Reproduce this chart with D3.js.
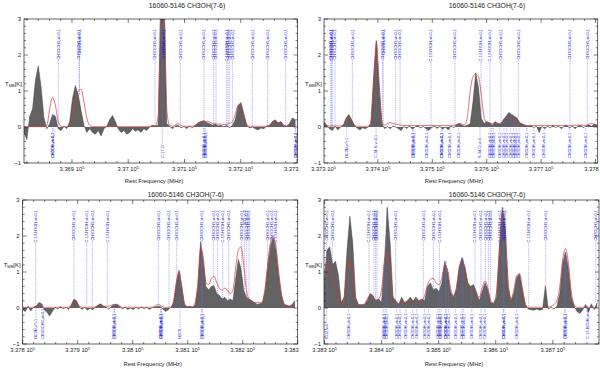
<!DOCTYPE html>
<html><head><meta charset="utf-8">
<script src="https://cdn.jsdelivr.net/npm/d3@7/dist/d3.min.js"></script>
<style>body{margin:0;background:#fff}svg{display:block}</style>
</head><body>
<svg id="c" width="600" height="369"></svg>
<script>
const titleText = "16060-5146 CH3OH(7-6)";
const xLabelText = "Rest Frequency (MHz)";
const yTickValues = [-1, 0, 1, 2, 3];

// ---------- Panel 1 ----------
const p1Start = 336814.7, p1Step = 5.075;
const p1Obs = [-0.15,-0.35,0.3,0.5,1.3,1.7,1.1,0.25,-0.05,0.1,
 0.35,0.3,-0.05,-0.1,0.02,-0.05,0.15,0.8,1.15,0.9,
 0.45,0.05,-0.15,-0.05,-0.15,-0.2,-0.1,-0.25,-0.05,0.02,
 0.2,0.32,0.15,-0.05,-0.15,-0.1,-0.2,-0.15,-0.05,-0.12,
 -0.08,-0.15,-0.05,-0.1,0.0,0.05,0.03,0.05,3.6,3.6,
 0.1,0.02,-0.05,0.03,0.05,-0.03,0.02,-0.05,0.03,-0.02,
 0.05,0.12,0.15,0.18,0.12,0.1,0.05,0.08,0.03,0.05,
 0.0,0.05,-0.02,0.05,0.2,0.6,0.68,0.35,0.05,-0.03,
 0.0,-0.05,-0.08,-0.03,-0.05,0.02,0.05,0.15,0.2,0.12,
 0.15,0.05,0.02,0.1,0.25,0.2];
const p1Model = [0.01,0.01,0.01,0.01,0.01,0.01,0.01,0.02,0.05,0.5,
 0.82,0.6,0.15,0.02,0.01,0.01,0.05,0.35,0.75,1.0,
 1.05,0.7,0.25,0.05,0.01,0.01,0.01,0.01,0.01,0.02,
 0.03,0.03,0.02,0.01,0.01,0.01,0.01,0.01,0.01,0.01,
 0.01,0.01,0.01,0.01,0.02,0.02,0.03,0.3,3.5,3.5,
 0.5,0.05,0.02,0.06,0.09,0.05,0.02,0.02,0.02,0.02,
 0.04,0.1,0.14,0.15,0.16,0.14,0.1,0.09,0.08,0.08,
 0.07,0.08,0.1,0.15,0.35,0.6,0.6,0.35,0.08,0.02,
 0.02,0.02,0.02,0.02,0.02,0.02,0.04,0.1,0.12,0.1,
 0.06,0.03,0.02,0.04,0.08,0.06];
const p1Ticks = [336900, 337000, 337100, 337200, 337300];
const p1LinesUp = [[336875.7,"CH3OCH3,vt=0,1"],[336912.5,"CH3OCH3,vt=0,1"],[336913.5,"CH3OH,vt=0,1"],
 [337047.6,"CH3OCH3,vt=0,1"],[337062.4,"CH3OCH3,vt=0,1"],[337063.4,"CH3OH,vt=0,1"],
 [337092.6,"CH3OCH3,vt=0,1"],[337134.7,"CH3OCH3,vt=0,1"],[337151.9,"CH3OCH3,vt=0,1"],
 [337156,"CH3OCH3,vt=0,1"],[337175,"C-13-H3OH,vt=0,1"],[337177.4,"CH3OCH3,vt=0,1"],
 [337179.7,"CH3OCH3,vt=0,1"],[337185.1,"CH3OCH3,vt=0,1"],[337220.6,"CH3OCH3,vt=0,1"],
 [337247.9,"CH3OCH3,vt=0,1"],[337279.9,"CH3OCH3,vt=0,1"]];
const p1LinesDown = [[336865.7,"CH3OH,vt=0,1"],[336866.5,"CH3OH,vt=0,1"],[337060.6,"C-17-O"],
 [337133.5,"CH3OH,vt=0,1"],[337135.3,"CH3OH,vt=0,1"],[337137.1,"CH3OH,vt=0,1"],
 [337297.1,"CH3OH,vt=0,1"],[337298,"CH3OH,vt=0,1"]];

// ---------- Panel 2 ----------
const p2Start = 337301, p2Step = 5.07;
const p2Obs = [0.15,0.05,-0.05,-0.1,0.02,-0.08,0.0,0.05,0.25,0.35,
 0.2,0.05,-0.03,-0.08,-0.02,-0.05,0.0,0.1,1.4,2.4,
 1.1,0.1,-0.05,0.02,-0.05,0.03,0.0,-0.05,-0.1,0.02,
 -0.04,0.03,-0.06,0.0,0.04,-0.03,0.02,-0.05,-0.1,-0.02,
 0.03,-0.04,0.02,-0.06,0.0,-0.08,0.03,-0.02,0.06,0.1,
 0.05,0.02,0.05,0.1,0.7,1.5,1.1,0.25,0.1,0.15,
 0.12,0.05,0.15,0.1,0.08,0.2,0.3,0.4,0.35,0.3,
 0.25,0.12,0.08,0.05,0.02,0.05,-0.02,0.03,-0.15,0.02,
 -0.05,0.03,-0.03,0.05,-0.02,0.03,-0.05,0.02,0.05,-0.03,
 0.03,-0.05,0.02,0.05,-0.02,0.03,0.06,0.02,0.08,0.05];
const p2Model = [0.03,0.03,0.03,0.03,0.03,0.03,0.03,0.05,0.2,0.28,
 0.2,0.06,0.02,0.02,0.02,0.02,0.02,0.15,1.3,2.35,
 1.2,0.15,0.05,0.1,0.12,0.1,0.08,0.06,0.05,0.04,
 0.04,0.04,0.04,0.04,0.04,0.04,0.04,0.04,0.04,0.04,
 0.04,0.04,0.04,0.04,0.04,0.04,0.04,0.05,0.06,0.1,
 0.08,0.06,0.3,1.0,1.4,1.47,1.4,0.9,0.3,0.12,
 0.1,0.1,0.1,0.1,0.1,0.15,0.22,0.25,0.25,0.22,
 0.15,0.08,0.04,0.04,0.04,0.04,0.04,0.04,0.04,0.04,
 0.04,0.04,0.04,0.04,0.04,0.04,0.04,0.04,0.04,0.04,
 0.04,0.05,0.05,0.05,0.05,0.05,0.08,0.1,0.07,0.05];
const p2Ticks = [337300, 337400, 337500, 337600, 337700, 337800];
const p2LinesUp = [[337313.3,"CH3OCH3,vt=0,1"],[337315.1,"CH3OCH3,vt=0,1"],[337316,"C-13-H3OH,vt=0,1"],
 [337321.2,"CH3OCH3,vt=0,1"],[337353.1,"CH3OCH3,vt=0,1"],[337408.9,"CH3OCH3,vt=0,1"],
 [337409.8,"CH3OH,vt=0,1"],[337432.7,"CH3OCH3,vt=0,1"],[337440.7,"CH3OCH3,vt=0,1"],
 [337497.7,"C-13-H3OH,vt=0,1"],[337541.7,"CH3OCH3,vt=0,1"],[337589.6,"C-13-H3OH,vt=0,1"],
 [337606.1,"C-13-H3OH,vt=0,1"],[337626.3,"CH3OCH3,vt=0,1"],[337658.1,"CH3OCH3,vt=0,1"],
 [337753.1,"CH3OCH3,vt=0,1"],[337784.9,"CH3OCH3,vt=0,1"]];
const p2LinesDown = [[337342.7,"HC3N,v7=1"],[337396.6,"C-34-S,v=0,1"],[337464,"CH3OH,vt=0,1"],
 [337465,"CH3OH,vt=0,1"],[337489.7,"CH3OH,vt=0,1"],[337517.2,"CH3OH,vt=0,1"],
 [337518.2,"CH3OH,vt=0,1"],[337532.6,"CH3OH,vt=0,1"],[337547.9,"CH3OH,vt=0,1"],
 [337587.7,"S-34-O,v=0"],[337606.1,"CH3OH,vt=0,1"],[337609.2,"CH3OH,vt=0,1"],
 [337612.2,"CH3OH,vt=0,1"],[337624.5,"CH3OH,vt=0,1"],[337631.9,"CH3OH,vt=0,1"],
 [337636.7,"CH3OH,vt=0,1"],[337644,"CH3OH,vt=0,1"],[337649,"CH3OH,vt=0,1"],
 [337653.9,"CH3OH,vt=0,1"],[337659.4,"CH3OH,vt=0,1"],[337673.5,"CH3OH,vt=0,1"],
 [337687,"CH3OH,vt=0,1"],[337705.4,"CH3OH,vt=0,1"],[337751.9,"CH3OH,vt=0,1"],
 [337781.9,"CH3OH,vt=0,1"]];

// ---------- Panel 3 ----------
const p3Start = 337800, p3Step = 4.9;
const p3Obs = [-0.05,-0.1,0.05,-0.08,0.02,0.05,0.15,0.12,-0.05,-0.12,
 -0.22,-0.1,0.02,-0.03,0.04,-0.02,0.02,-0.04,0.08,0.25,
 0.2,0.03,-0.04,0.02,-0.06,0.0,-0.05,0.03,0.08,0.12,
 0.05,0.02,-0.03,0.05,0.1,0.1,0.04,-0.02,0.02,-0.04,
 0.0,-0.05,0.02,-0.03,0.03,-0.02,0.02,-0.04,0.01,0.03,
 0.05,0.04,-0.03,-0.1,-0.05,0.02,0.15,0.7,1.05,0.6,
 0.1,0.03,0.05,0.02,0.08,0.6,1.85,1.3,0.6,0.5,
 0.6,0.62,0.4,0.35,0.25,0.3,0.2,0.25,0.2,0.8,
 1.35,1.1,0.5,0.3,0.25,0.2,0.15,0.1,0.12,0.15,
 0.5,1.2,1.75,1.95,1.6,0.9,0.35,0.1,0.08,0.05,
 0.1,0.2];
const p3Model = [0.02,0.02,0.02,0.02,0.02,0.05,0.08,0.06,0.02,0.02,
 0.02,0.02,0.02,0.02,0.02,0.02,0.02,0.02,0.08,0.2,
 0.15,0.05,0.02,0.02,0.02,0.02,0.02,0.03,0.05,0.06,
 0.05,0.05,0.05,0.08,0.1,0.1,0.05,0.02,0.02,0.02,
 0.02,0.02,0.02,0.02,0.02,0.02,0.02,0.02,0.02,0.05,
 0.1,0.08,0.03,0.02,0.02,0.02,0.2,0.7,1.0,0.6,
 0.15,0.04,0.04,0.04,0.15,0.7,1.65,1.4,0.7,0.65,
 0.82,0.88,0.7,0.55,0.5,0.55,0.5,0.4,0.5,1.1,
 1.6,1.7,1.2,0.5,0.25,0.2,0.15,0.15,0.15,0.2,
 0.6,1.3,1.85,2.0,1.7,1.0,0.4,0.12,0.05,0.05,
 0.05,0.1];
const p3Ticks = [337800, 337900, 338000, 338100, 338200, 338300];
const p3LinesUp = [[337823.6,"C-13-H3OH,vt=0,1"],[337893.3,"CH3OCH3,vt=0,1"],[337916.3,"C-13-H3OH,vt=0,1"],
 [337926.6,"CH3OCH3,vt=0,1"],[337953.9,"C-13-H3OH,vt=0,1"],[338046.6,"CH3OCH3,vt=0,1"],
 [338066,"CH3OCH3,vt=0,1"],[338080,"CH3OCH3,vt=0,1"],[338125.4,"CH3OCH3,vt=0,1"],
 [338146.6,"CH3OCH3,vt=0,1"],[338154.5,"CH3OCH3,vt=0,1"],[338163.6,"C-13-H3OH,vt=0,1"],
 [338174.5,"CH3OCH3,vt=0,1"],[338198.1,"CH3OCH3,vt=0,1"],[338203,"SO2,v=0"],
 [338207.2,"CH3OCH3,vt=0,1"],[338211.5,"CH3OCH3,vt=0,1"],[338244.8,"CH3OCH3,vt=0,1"],
 [338252.7,"CH3OCH3,vt=0,1"],[338260.5,"C-13-H3OH,vt=0,1"]];
const p3LinesDown = [[337824.2,"HC3N,v7=1"],[337835.7,"CH3OCH3,vt=0,1"],[337966,"CH3OH,vt=0,1"],
 [337967,"CH3OH,vt=0,1"],[338050.9,"CH3OH,vt=0,1"],[338051.8,"CH3OH,vt=0,1"],
 [338052.7,"CH3OH,vt=0,1"],[338086,"H2CS"],[338125.4,"CH3OH,vt=0,1"],[338126.6,"CH3OH,vt=0,1"]];

// ---------- Panel 4 ----------
const p4Start = 338299, p4Step = 5.04;
const p4Obs = [0.65,1.6,1.7,1.2,1.3,0.9,0.15,0.3,1.6,2.55,
 1.8,0.3,0.1,0.08,0.1,0.2,0.4,0.35,0.2,0.25,
 0.15,1.2,2.8,1.8,0.3,0.2,0.1,0.3,0.15,0.2,
 0.3,0.2,0.3,0.2,0.25,0.2,0.6,0.7,0.5,0.55,
 0.45,0.7,1.3,1.0,0.45,0.3,0.5,1.15,1.4,1.15,
 0.7,0.6,0.65,0.45,0.2,0.45,0.7,0.5,0.15,0.12,
 0.3,1.6,2.8,2.2,0.6,0.2,0.4,0.85,0.95,0.5,
 0.1,-0.03,-0.05,-0.06,-0.03,-0.06,-0.04,0.62,-0.03,0.02,
 -0.03,0.05,0.4,1.25,1.55,1.1,0.3,0.05,-0.1,-0.15,
 -0.05,0.1,-0.12,0.12,-0.05,0.15];
const p4Model = [0.9,1.25,1.1,0.8,0.6,0.3,0.07,0.25,0.9,1.35,
 0.95,0.25,0.08,0.1,0.1,0.25,0.35,0.3,0.22,0.25,
 0.5,1.3,1.55,1.0,0.3,0.15,0.12,0.15,0.15,0.15,
 0.2,0.2,0.2,0.18,0.2,0.35,0.65,0.8,0.82,0.7,
 0.65,0.85,1.2,1.05,0.55,0.35,0.55,1.05,1.25,1.1,
 0.7,0.55,0.5,0.35,0.3,0.55,0.75,0.55,0.2,0.15,
 0.45,1.7,2.65,2.2,0.8,0.25,0.5,0.9,0.95,0.55,
 0.12,0.02,0.02,0.02,0.02,0.02,0.02,0.02,0.02,0.05,
 0.1,0.2,0.6,1.35,1.65,1.25,0.45,0.1,0.02,0.02,
 0.02,0.02,0.02,0.02,0.02,0.02];
const p4Ticks = [338300, 338400, 338500, 338600, 338700];
const p4LinesUp = [[338303.6,"CH3OCH3,vt=0,1"],[338313.6,"CH3OCH3,vt=0,1"],[338377.9,"C-13-H3OH,vt=0,1"],
 [338386.6,"CH3OCH3,vt=0,1"],[338389.5,"CH3OCH3,vt=0,1"],[338391.9,"CH3OCH3,vt=0,1"],
 [338424.6,"CH3OCH3,vt=0,1"],[338473.1,"CH3OCH3,vt=0,1"],[338490.7,"CH3OCH3,vt=0,1"],
 [338501.2,"C-13-H3OH,vt=0,1"],[338563.7,"C-13-H3OH,vt=0,1"],[338574.2,"CH3OCH3,vt=0,1"],
 [338581.8,"CH3OCH3,vt=0,1"],[338587.1,"CH3OCH3,vt=0,1"],[338590.6,"CH3OCH3,vt=0,1"],
 [338606.4,"C-13-H3OH,vt=0,1"],[338614.6,"CH3OCH3,vt=0,1"],[338615.5,"CH3OCH3,vt=0,1"],
 [338657.8,"C-13-H3OH,vt=0,1"],[338687.6,"CH3OCH3,vt=0,1"],[338775.3,"CH3OCH3,vt=0,1"]];
const p4LinesDown = [[338303.6,"SO2,v=0"],[338341.6,"CH3OH,vt=0,1"],[338403,"CH3OH,vt=0,1"],
 [338405.9,"CH3OH,vt=0,1"],[338408.8,"CH3OH,vt=0,1"],[338426.4,"CH3OH,vt=0,1"],
 [338432.2,"CH3OH,vt=0,1"],[338442.7,"CH3OH,vt=0,1"],[338454.4,"CH3OH,vt=0,1"],
 [338461.4,"CH3OH,vt=0,1"],[338474.9,"CH3OH,vt=0,1"],[338481.9,"CH3OH,vt=0,1"],
 [338498.3,"CH3OH,vt=0,1"],[338501.2,"CH3OH,vt=0,1"],[338504.1,"CH3OH,vt=0,1"],
 [338512.3,"CH3OH,vt=0,1"],[338513,"CH3OH,vt=0,1"],[338517,"CH3OH,vt=0,1"],
 [338529.2,"CH3OH,vt=0,1"],[338540.9,"CH3OH,vt=0,1"],[338543.3,"CH3OH,vt=0,1"],
 [338557.9,"CH3OH,vt=0,1"],[338574.2,"CH3OH,vt=0,1"],[338581.3,"CH3OH,vt=0,1"],
 [338613.4,"CH3OH,vt=0,1"],[338614.5,"CH3OH,vt=0,1"],[338636.8,"CH3OH,vt=0,1"],
 [338720.4,"CH3OH,vt=0,1"],[338722.7,"CH3OH,vt=0,1"],[338760.7,"C-13-H3OH,vt=0,1"]];

// ---------- layout ----------
const panels = [
 {start:p1Start, step:p1Step, obs:p1Obs, model:p1Model, ticks:p1Ticks, up:p1LinesUp, down:p1LinesDown,
  dom:[336814.7,337300.9], x0:24, x1:297.5, y0:19, y1:163, titleY:8, xlabY:183},
 {start:p2Start, step:p2Step, obs:p2Obs, model:p2Model, ticks:p2Ticks, up:p2LinesUp, down:p2LinesDown,
  dom:[337301,337804], x0:324, x1:597.7, y0:19, y1:163, titleY:8, xlabY:183},
 {start:p3Start, step:p3Step, obs:p3Obs, model:p3Model, ticks:p3Ticks, up:p3LinesUp, down:p3LinesDown,
  dom:[337800,338300], x0:22.7, x1:297.7, y0:200, y1:344, titleY:197, xlabY:366},
 {start:p4Start, step:p4Step, obs:p4Obs, model:p4Model, ticks:p4Ticks, up:p4LinesUp, down:p4LinesDown,
  dom:[338299,338781], x0:324, x1:599, y0:200, y1:344, titleY:197, xlabY:366}
];

const svg = d3.select("#c");
const defs = svg.append("defs");
const FONT = "Liberation Sans, Arial, sans-serif";
const TXT = "#222";
const LBL = "#2424d0";

function fmtNum(v){ return (v/1e5).toFixed(3).replace(/0+$/,""); }

panels.forEach((p,k)=>{
  const x = d3.scaleLinear().domain(p.dom).range([p.x0,p.x1]);
  const y = d3.scaleLinear().domain([-1,3]).range([p.y1,p.y0]);
  const clipId = "clip"+k;
  defs.append("clipPath").attr("id",clipId).append("rect")
    .attr("x",p.x0).attr("y",p.y0).attr("width",p.x1-p.x0).attr("height",p.y1-p.y0);
  const g = svg.append("g");
  const plot = g.append("g").attr("clip-path","url(#"+clipId+")");
  const freqs = p.obs.map((v,i)=>p.start+i*p.step);
  const obsAt = f => { const i = Math.round((f-p.start)/p.step); return (i>=0 && i<p.obs.length)? p.obs[i] : 0; };

  // observed spectrum
  const area = d3.area().x((d,i)=>x(freqs[i])).y0(y(0)).y1(d=>y(d)).curve(d3.curveLinear);
  plot.append("path").datum(p.obs).attr("d",area).attr("fill","#626262");
  const line = d3.line().x((d,i)=>x(freqs[i])).y(d=>y(d)).curve(d3.curveLinear);
  plot.append("path").datum(p.obs).attr("d",line).attr("fill","none").attr("stroke","#444").attr("stroke-width",0.5);

  // line markers
  const lineG = plot.append("g");
  const lblG = g.append("g").attr("clip-path","url(#"+clipId+")");
  const topY = y(2.72), botY = y(-0.86);
  p.up.forEach(([f,lab])=>{
    const xx = x(f);
    const t = lblG.append("text").attr("transform",`translate(${xx+1.3},${topY}) rotate(-90)`)
      .attr("text-anchor","end").attr("font-family",FONT).attr("font-size",3.9)
      .attr("fill",LBL).text(lab);
    const L = t.node().getComputedTextLength();
    const yStart = topY + L + 1;
    const yEnd = y(Math.max(0, obsAt(f)));
    if (yEnd > yStart) lineG.append("line").attr("x1",xx).attr("x2",xx).attr("y1",yStart).attr("y2",yEnd)
      .attr("stroke","#6a6ae2").attr("stroke-width",0.5).attr("stroke-dasharray","1.3,0.9");
  });
  p.down.forEach(([f,lab])=>{
    const xx = x(f);
    const t = lblG.append("text").attr("transform",`translate(${xx+1.3},${botY}) rotate(-90)`)
      .attr("text-anchor","start").attr("font-family",FONT).attr("font-size",3.9)
      .attr("fill",LBL).text(lab);
    const L = t.node().getComputedTextLength();
    const yStart = botY - L - 1;
    const yEnd = y(Math.max(0, obsAt(f)));
    lineG.append("line").attr("x1",xx).attr("x2",xx).attr("y1",yStart).attr("y2",yEnd)
      .attr("stroke","#6a6ae2").attr("stroke-width",0.5).attr("stroke-dasharray","1.3,0.9");
  });

  // model
  const mline = d3.line().x((d,i)=>x(freqs[i])).y(d=>y(d)).curve(d3.curveMonotoneX);
  plot.append("path").datum(p.model).attr("d",mline).attr("fill","none")
    .attr("stroke","#d63a3a").attr("stroke-width",0.7);

  // frame
  g.append("rect").attr("x",p.x0).attr("y",p.y0).attr("width",p.x1-p.x0).attr("height",p.y1-p.y0)
    .attr("fill","none").attr("stroke","#222").attr("stroke-width",0.7);

  // x ticks
  const tg = g.append("g").attr("stroke","#222").attr("stroke-width",0.6);
  for (let f = Math.ceil(p.dom[0]/20)*20; f <= p.dom[1]; f += 20) {
    const major = (Math.round(f) % 100 === 0);
    const len = major ? 4 : 2;
    const xx = x(f);
    tg.append("line").attr("x1",xx).attr("x2",xx).attr("y1",p.y1).attr("y2",p.y1-len);
    tg.append("line").attr("x1",xx).attr("x2",xx).attr("y1",p.y0).attr("y2",p.y0+len);
  }
  // y ticks
  for (let v = -1; v <= 3.001; v += 0.2) {
    const vv = Math.round(v*10)/10;
    const major = Math.abs(vv - Math.round(vv)) < 1e-6;
    const len = major ? 4 : 2;
    const yy = y(vv);
    tg.append("line").attr("x1",p.x0).attr("x2",p.x0+len).attr("y1",yy).attr("y2",yy);
    tg.append("line").attr("x1",p.x1).attr("x2",p.x1-len).attr("y1",yy).attr("y2",yy);
  }
  // x tick labels
  const labY = p.y1 + 8;
  p.ticks.forEach(v=>{
    const xx = x(v);
    if (xx > p.x1 - 6) {
      g.append("text").attr("x",p.x1+1).attr("y",labY).attr("text-anchor","end")
        .attr("font-family",FONT).attr("font-size",5.8).attr("fill",TXT).text(fmtNum(v));
    } else {
      const t = g.append("text").attr("x",xx).attr("y",labY).attr("text-anchor","middle")
        .attr("font-family",FONT).attr("font-size",5.8).attr("fill",TXT);
      t.append("tspan").text(fmtNum(v)+" 10");
      t.append("tspan").attr("dy",-2.5).attr("font-size",4).text("5");
    }
  });
  // y tick labels
  yTickValues.forEach(v=>{
    g.append("text").attr("x",p.x0-3).attr("y",y(v)+2).attr("text-anchor","end")
      .attr("font-family",FONT).attr("font-size",6).attr("fill",TXT).text(v<0? "\u2212"+Math.abs(v) : v);
  });
  // y axis label
  const yl = g.append("text").attr("x",p.x0-19).attr("y",y(1.2)+2)
    .attr("font-family",FONT).attr("font-size",6).attr("fill",TXT);
  yl.append("tspan").text("T");
  yl.append("tspan").attr("dy",1.5).attr("font-size",4).text("MB");
  yl.append("tspan").attr("dy",-1.5).text("[K]");
  // title & x label
  g.append("text").attr("x",p.x0+163).attr("y",p.titleY).attr("text-anchor","middle")
    .attr("font-family",FONT).attr("font-size",6.8).attr("fill",TXT).text(titleText);
  g.append("text").attr("x",p.x0+130).attr("y",p.xlabY).attr("text-anchor","middle")
    .attr("font-family",FONT).attr("font-size",5.8).attr("fill",TXT).text(xLabelText);
});
</script>
</body></html>
